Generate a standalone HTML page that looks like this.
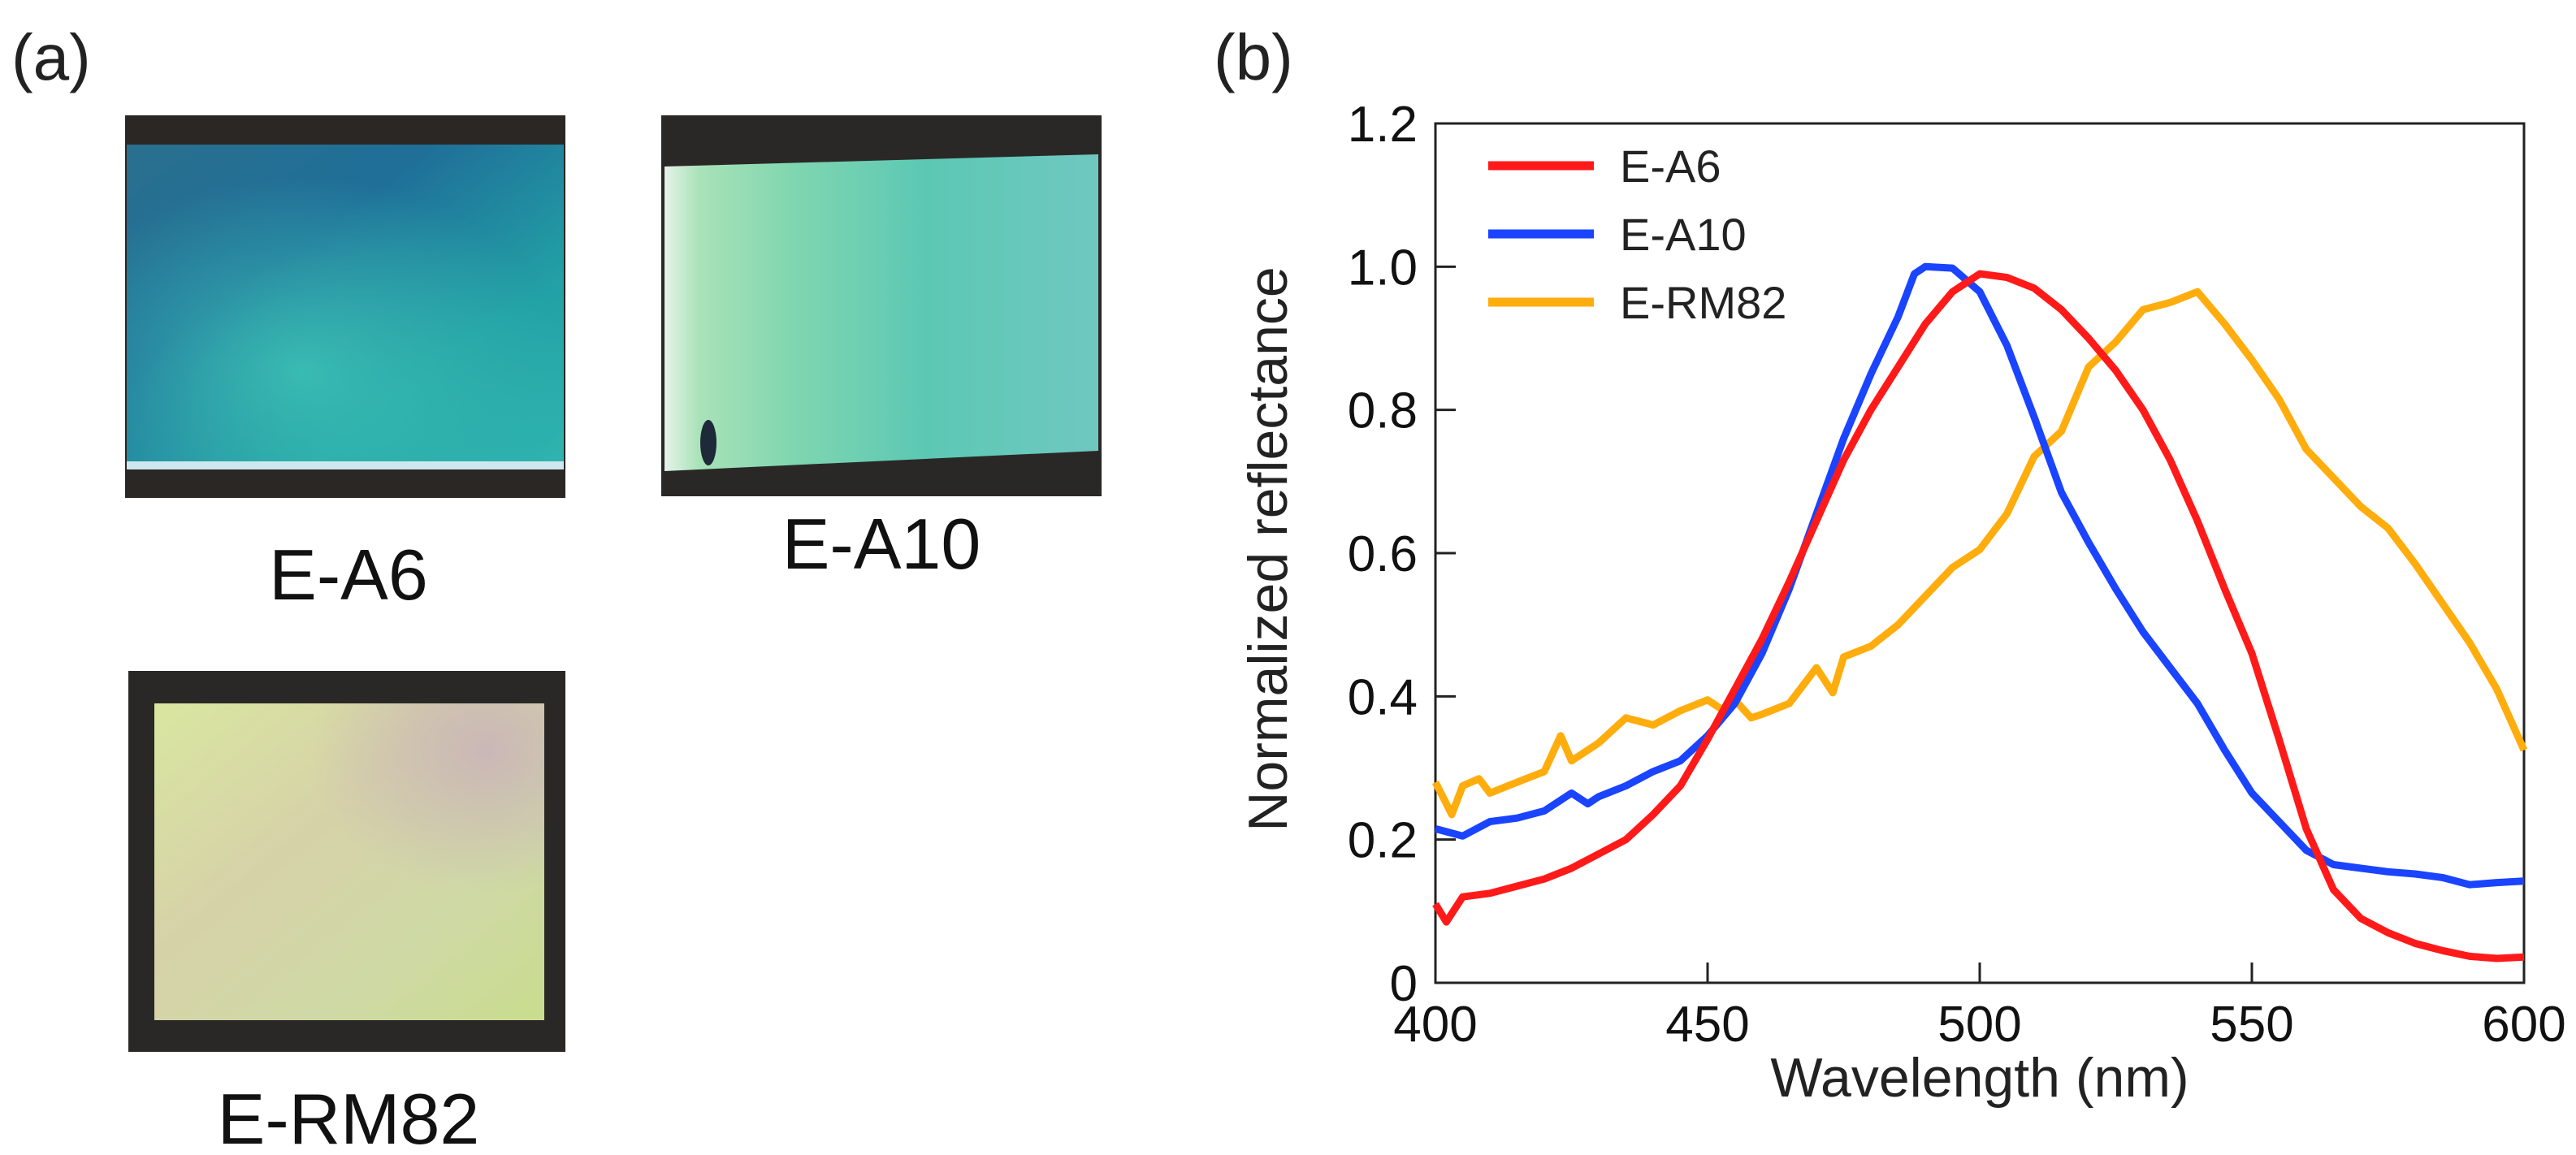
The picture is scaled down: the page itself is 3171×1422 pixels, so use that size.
<!DOCTYPE html>
<html><head><meta charset="utf-8"><style>
html,body{margin:0;padding:0;background:#fff;overflow:hidden;}
svg{display:block;font-family:"Liberation Sans",Arial,sans-serif;}
</style></head><body>
<svg id="fig" width="3171" height="1422" viewBox="0 0 3171 1422" xmlns="http://www.w3.org/2000/svg">
<defs>
<linearGradient id="gA6" x1="0" y1="0" x2="1" y2="1">
<stop offset="0" stop-color="#2a6f8e"/><stop offset="0.35" stop-color="#1f6f99"/><stop offset="0.7" stop-color="#22a0a5"/><stop offset="1" stop-color="#2fb5b0"/></linearGradient>
<radialGradient id="gA6b" cx="0.4" cy="0.7" r="0.6"><stop offset="0" stop-color="#3fc6b6" stop-opacity="0.8"/><stop offset="1" stop-color="#3fc6b6" stop-opacity="0"/></radialGradient>
<linearGradient id="gA10" x1="0" y1="0" x2="1" y2="0">
<stop offset="0" stop-color="#e6f3e8"/><stop offset="0.08" stop-color="#a9e2b8"/><stop offset="0.3" stop-color="#7fd6b0"/><stop offset="0.6" stop-color="#5cc8b4"/><stop offset="1" stop-color="#6fc8c0"/></linearGradient>
<linearGradient id="gRM" x1="0" y1="0" x2="1" y2="1">
<stop offset="0" stop-color="#d9e6a0"/><stop offset="0.4" stop-color="#d6d2a8"/><stop offset="0.7" stop-color="#cfd9a6"/><stop offset="1" stop-color="#c9dc8e"/></linearGradient>
<radialGradient id="gRMb" cx="0.85" cy="0.15" r="0.45"><stop offset="0" stop-color="#c9b4b8" stop-opacity="0.9"/><stop offset="1" stop-color="#c9b4b8" stop-opacity="0"/></radialGradient>
</defs>

<text x="14" y="98" font-size="80" fill="#222">(a)</text>
<text x="1494" y="98" font-size="80" fill="#222">(b)</text>

<g>
<rect x="154" y="142" width="542" height="471" fill="#2b2725"/>
<rect x="156" y="178" width="538" height="398" fill="url(#gA6)"/>
<rect x="156" y="178" width="538" height="398" fill="url(#gA6b)"/>
<rect x="156" y="568" width="538" height="10" fill="#cfe7ee"/>
</g>
<text x="429" y="738" font-size="88" text-anchor="middle" fill="#111">E-A6</text>

<g>
<rect x="814" y="142" width="542" height="469" fill="#2a2826"/>
<polygon points="818,205 1352,190 1352,555 818,580" fill="url(#gA10)"/>
<ellipse cx="872" cy="545" rx="10" ry="28" fill="#1e2a3a"/>
</g>
<text x="1085" y="700" font-size="88" text-anchor="middle" fill="#111">E-A10</text>

<g>
<rect x="158" y="826" width="538" height="469" fill="#2a2826"/>
<rect x="190" y="866" width="480" height="390" fill="url(#gRM)"/>
<rect x="190" y="866" width="480" height="390" fill="url(#gRMb)"/>
</g>
<text x="429" y="1408" font-size="88" text-anchor="middle" fill="#111">E-RM82</text>

<g id="chart"></g>
</svg>
<script>
const xTicks=[400,450,500,550,600];
const yTicks=[0,0.2,0.4,0.6,0.8,1.0,1.2];
const yTickLabels=["0","0.2","0.4","0.6","0.8","1.0","1.2"];
const seriesNames=["E-A6","E-A10","E-RM82"];
const wlA6=[400,402,405,410,415,420,425,430,435,440,445,450,455,460,465,470,475,480,485,490,495,500,505,510,515,520,525,530,535,540,545,550,555,560,565,570,575,580,585,590,595,600];
const valA6=[0.11,0.085,0.12,0.125,0.135,0.145,0.16,0.18,0.2,0.235,0.275,0.34,0.41,0.48,0.56,0.645,0.73,0.8,0.86,0.92,0.965,0.99,0.985,0.97,0.94,0.9,0.855,0.8,0.73,0.645,0.55,0.46,0.34,0.215,0.13,0.09,0.07,0.055,0.045,0.037,0.034,0.036];
const wlA10=[400,405,410,415,420,425,428,430,435,440,445,450,455,460,465,470,475,480,485,488,490,495,500,505,510,515,520,525,530,535,540,545,550,555,560,565,570,575,580,585,590,595,600];
const valA10=[0.215,0.205,0.225,0.23,0.24,0.265,0.25,0.26,0.275,0.295,0.31,0.345,0.39,0.46,0.55,0.655,0.76,0.85,0.93,0.99,1.0,0.998,0.965,0.89,0.79,0.685,0.615,0.55,0.49,0.44,0.39,0.325,0.265,0.225,0.185,0.165,0.16,0.155,0.152,0.147,0.137,0.14,0.142];
const wlRM=[400,403,405,408,410,415,420,423,425,430,435,440,445,450,453,455,458,460,465,470,473,475,480,485,490,495,500,505,510,515,520,525,530,535,540,545,550,555,560,565,570,575,580,585,590,595,600];
const valRM=[0.28,0.235,0.275,0.285,0.265,0.28,0.295,0.345,0.31,0.335,0.37,0.36,0.38,0.395,0.38,0.395,0.37,0.375,0.39,0.44,0.405,0.455,0.47,0.5,0.54,0.58,0.605,0.655,0.735,0.77,0.86,0.895,0.94,0.95,0.965,0.92,0.87,0.815,0.745,0.705,0.665,0.635,0.585,0.53,0.475,0.41,0.325];
const colors=["#ff1a1a","#1a44ff","#ffad0d"];

const L=1767,R=3107,T=152,B=1210;
const xs=v=>L+(v-400)/200*(R-L);
const ys=v=>B-v/1.2*(B-T);
const NS="http://www.w3.org/2000/svg";
const g=document.getElementById('chart');
function mk(tag,attrs){const e=document.createElementNS(NS,tag);for(const k in attrs)e.setAttribute(k,attrs[k]);g.appendChild(e);return e;}

const frame=mk('rect',{x:L,y:T,width:R-L,height:B-T,fill:'none',stroke:'#222','stroke-width':3});



xTicks.forEach(t=>{
 const tk=mk('line',{x1:xs(t),x2:xs(t),y1:B,y2:B-25,stroke:'#222','stroke-width':3});
 
 
 const lb=mk('text',{x:xs(t),y:B+72,'font-size':62,'text-anchor':'middle',fill:'#111'});
 lb.textContent=t;
 
 
});
yTicks.forEach((t,i)=>{
 const tk=mk('line',{x1:L,x2:L+25,y1:ys(t),y2:ys(t),stroke:'#222','stroke-width':3});
 
 
 const lb=mk('text',{x:L-22,y:ys(t)+22,'font-size':62,'text-anchor':'end',fill:'#111'});
 lb.textContent=yTickLabels[i];
 
 
});
const xt=mk('text',{x:(L+R)/2,y:1350,'font-size':68,'text-anchor':'middle',fill:'#222'});
xt.textContent='Wavelength (nm)';


const yt=mk('text',{x:0,y:0,'font-size':68,'text-anchor':'middle',fill:'#222',transform:'translate(1584,676) rotate(-90)'});
yt.textContent='Normalized reflectance';



const data=[[wlA6,valA6],[wlA10,valA10],[wlRM,valRM]];
[2,1,0].forEach(i=>{
 const [w,v]=data[i];
 const d=w.map((x,j)=>(j?'L':'M')+xs(x).toFixed(1)+','+ys(v[j]).toFixed(1)).join(' ');
 const p=mk('path',{d:d,fill:'none',stroke:colors[i],'stroke-width':9,'stroke-linejoin':'round'});
 
 
});
seriesNames.forEach((n,i)=>{
 const y=204+i*84;
 const ln=mk('line',{x1:1832,x2:1962,y1:y,y2:y,stroke:colors[i],'stroke-width':11});
 
 
 const tx=mk('text',{x:1994,y:y+20,'font-size':56,fill:'#222'});
 tx.textContent=n;
 
 
});
</script>
</body></html>
